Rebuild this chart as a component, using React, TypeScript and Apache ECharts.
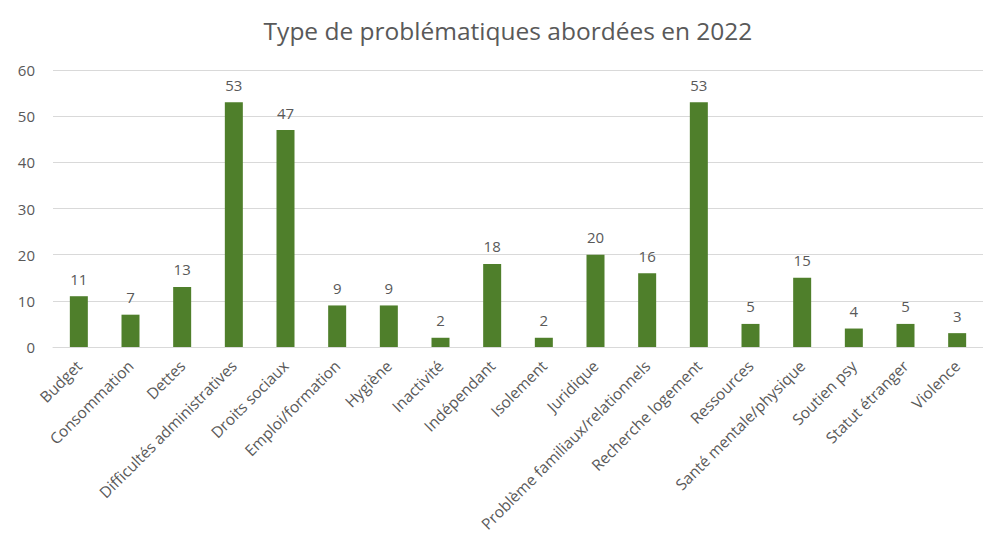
import React, { useEffect, useRef } from "react";
import * as echarts from "echarts";

const categories = [
  "Budget",
  "Consommation",
  "Dettes",
  "Difficultés administratives",
  "Droits sociaux",
  "Emploi/formation",
  "Hygiène",
  "Inactivité",
  "Indépendant",
  "Isolement",
  "Juridique",
  "Problème familiaux/relationnels",
  "Recherche logement",
  "Ressources",
  "Santé mentale/physique",
  "Soutien psy",
  "Statut étranger",
  "Violence",
];
const values = [11, 7, 13, 53, 47, 9, 9, 2, 18, 2, 20, 16, 53, 5, 15, 4, 5, 3];
const titleText = "Type de problématiques abordées en 2022";

export default function App() {
  const ref = useRef<HTMLDivElement>(null);
  useEffect(() => {
    if (!ref.current) return;
    const chart = echarts.init(ref.current, null, { renderer: "svg" });
    const font = "'Open Sans', sans-serif";
    chart.setOption({
      animation: false,
      backgroundColor: "#ffffff",
      title: {
        text: titleText,
        left: 503,
        textAlign: "center",
        top: 13,
        textStyle: { fontFamily: font, fontSize: 24.5, fontWeight: "normal", color: "#595959" },
      },
      grid: { left: 53, right: -10, top: 70, bottom: 203, containLabel: false },
      xAxis: {
        type: "category",
        data: categories,
        axisTick: { show: false },
        axisLine: { lineStyle: { color: "#d9d9d9" } },
        axisLabel: {
          rotate: 45,
          interval: 0,
          fontFamily: font,
          fontSize: 15.5,
          color: "#595959",
          margin: 16,
        },
      },
      yAxis: {
        type: "value",
        min: 0,
        max: 60,
        interval: 10,
        axisLine: { show: false },
        axisTick: { show: false },
        splitLine: { lineStyle: { color: "#d9d9d9" } },
        axisLabel: { fontFamily: font, fontSize: 15, color: "#595959", margin: 18 },
      },
      series: [
        {
          type: "bar",
          data: values,
          barWidth: 18,
          itemStyle: { color: "#4f7f2b" },
          label: {
            show: true,
            position: "top",
            distance: 10,
            fontFamily: font,
            fontSize: 15,
            color: "#595959",
          },
        },
      ],
    });
    return () => chart.dispose();
  }, []);
  return (
    <div
      ref={ref}
      style={{ position: "fixed", left: 0, top: 0, width: 983, height: 550 }}
    />
  );
}
